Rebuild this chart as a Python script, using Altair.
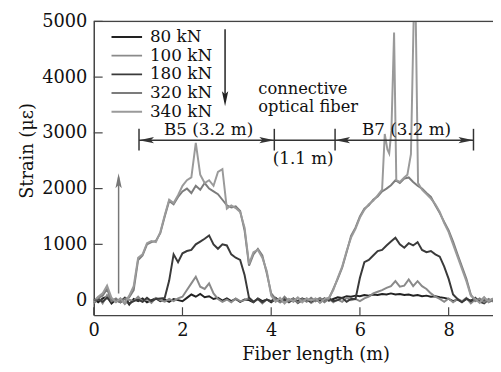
import altair as alt
import pandas as pd

FONT = "DejaVu Serif"

# ---------------- data ----------------
x_grid = [round(i * 0.1, 1) for i in range(91)]  # 0.0 .. 9.0 m

s80 = [20, -40, 30, 60, -60, 10, -30, 40, -80, 20,
       -20, 30, -40, 0, 30, -20, 10, -30, 20, 0,
       -20, 40, 100, 60, 110, 50, 70, 20, 40, -10,
       30, -20, 20, -30, 10, 0, -40, 30, -20, 10,
       -40, 20, -30, 10, -20, 30, -50, 0, 20, -30,
       10, -20, 30, -10, 20, 50, 40, 70, 60, 80,
       70, 90, 80, 100, 90, 110, 100, 120, 100, 110,
       90, 100, 80, 90, 70, 80, 60, 70, 50, 40,
       20, -20, 10, -30, 20, -10, 30, -40, 10, -20, 20]

s100 = [-30, 50, -60, 90, 20, -40, 30, -70, 10, -20,
        60, -30, 20, -50, 40, 0, -30, 20, -20, 30,
        60, 180, 300, 420, 240, 200, 300, 120, 20, -30,
        10, -40, 30, -20, 0, 40, -30, 20, -60, 10,
        -20, 30, -10, -40, 20, -30, 40, -10, 30, -50,
        0, 40, -20, 30, -40, 10, -30, 40, 0, 20,
        -20, 30, 60, 120, 150, 180, 220, 250, 340, 240,
        260, 370, 250, 340, 250, 200, 120, 60, 20, -30,
        30, -40, 20, -20, 40, -60, 10, -30, 50, -40, 0]

s180 = [-50, 20, -30, 40, -20, 0, -40, 30, -60, -20,
        10, -30, 40, -20, 20, 30, 40, 350, 820, 680,
        840, 880, 900, 1000, 1050, 1100, 1160, 1000, 920, 1000,
        980, 820, 760, 720, 450, 40, -30, 20, -40, 10,
        -20, 40, -30, 20, -40, 10, -20, 30, -10, -30,
        20, -40, 10, 30, -20, 0, 40, -30, 20, 20,
        400, 680, 720, 800, 880, 900, 980, 1050, 1120, 1000,
        940, 1020, 980, 1040, 900, 860, 880, 820, 780, 600,
        380, 100, 20, -40, 30, -20, 40, -30, -60, 10, -20]

s320 = [-60, 40, 80, 200, -20, 30, -40, 20, 50, 180,
        720, 800, 1000, 1040, 1060, 1200, 1500, 1780, 1720, 1850,
        1950, 2000, 1920, 2050, 1980, 2100, 2000, 1950, 1900, 1800,
        1700, 1660, 1680, 1600, 1250, 620, 820, 920, 800, 480,
        120, 20, -40, 60, -20, 30, -50, 20, -30, 40,
        -20, 30, -40, 20, 200, 380, 580, 860, 1150, 1300,
        1500, 1640, 1700, 1800, 1860, 1950, 2000, 2060, 2150, 2100,
        2180, 2200, 2120, 2050, 2000, 1920, 1850, 1700, 1560, 1400,
        1250, 1050, 820, 600, 380, 100, -20, 30, -40, 20, -30]

x340 = [0.0, 0.1, 0.2, 0.3, 0.4, 0.5, 0.6, 0.7, 0.8, 0.9,
        1.0, 1.1, 1.2, 1.3, 1.4, 1.5, 1.6, 1.7, 1.8, 1.9,
        2.0, 2.1, 2.2, 2.3, 2.4, 2.5, 2.6, 2.7, 2.8, 2.9,
        3.0, 3.1, 3.2, 3.3, 3.4, 3.5, 3.6, 3.7, 3.8, 3.9,
        4.0, 4.1, 4.2, 4.3, 4.4, 4.5, 4.6, 4.7, 4.8, 4.9,
        5.0, 5.1, 5.2, 5.3, 5.4, 5.5, 5.6, 5.7, 5.8, 5.9,
        6.0, 6.1, 6.2, 6.3, 6.4, 6.5, 6.56, 6.62, 6.66, 6.71,
        6.77, 6.82, 6.9, 7.0, 7.07, 7.15, 7.21, 7.26, 7.31,
        7.4, 7.5, 7.6, 7.7, 7.8, 7.9, 8.0, 8.1, 8.2, 8.3, 8.4,
        8.5, 8.6, 8.7, 8.8, 8.9, 9.0]
s340 = [-20, 60, 120, 260, 40, -30, 20, -50, 80, 250,
        760, 820, 1020, 1060, 1040, 1220, 1520, 1800, 1740, 1880,
        2050, 2150, 2200, 2820, 2250, 2100, 2150, 2050, 2300, 2350,
        1640, 1700, 1650, 1580, 1300, 650, 860, 900, 760, 520,
        80, -30, 40, -60, 20, -20, 50, -40, 30, -10,
        30, -50, 20, 40, 180, 400, 600, 880, 1120, 1280,
        1480, 1620, 1720, 1780, 1880, 1980, 2980, 2700, 2630, 3040,
        4800, 2150, 2120, 2200, 2250, 2620, 5000, 5000, 2100,
        1980, 1900, 1820, 1720, 1580, 1380, 1220, 1000, 780, 560, 340,
        80, 20, -50, 40, -20, 30]

series_names = ["80 kN", "100 kN", "180 kN", "320 kN", "340 kN"]
series_colors = ["#222222", "#8a8a8a", "#3a3a3a", "#7c7c7c", "#9a9a9a"]

x_ticks = [0, 2, 4, 6, 8]
y_ticks = [0, 1000, 2000, 3000, 4000, 5000]

# annotations (data units)
seg_x = [1.02, 4.07, 5.44, 8.56]         # B5 / B7 boundaries
seg_y = 2868
ann_texts = ["B5 (3.2 m)", "(1.1 m)", "B7 (3.2 m)", "connective", "optical fiber"]
ann_tx = [2.59, 4.72, 7.05, 3.71, 3.71]
ann_ty = [2960, 2450, 2970, 3700, 3375]
ann_size = [17, 17, 17, 16.5, 16.5]
ann_align = ["center", "center", "center", "left", "left"]

# ---------------- tables ----------------
rows = []
for name, xs_, ys_ in [("80 kN", x_grid, s80), ("100 kN", x_grid, s100),
                       ("180 kN", x_grid, s180), ("320 kN", x_grid, s320),
                       ("340 kN", x340, s340)]:
    for xv, yv in zip(xs_, ys_):
        rows.append({"x": xv, "y": yv, "s": name})
df = pd.DataFrame(rows)

W, H = 405, 298
xsc = alt.Scale(domain=[0, 9], nice=False, zero=False)
ysc = alt.Scale(domain=[-270, 5000], nice=False, zero=False)

X_AX = alt.Axis(
    values=x_ticks, format="d", ticks=False, grid=False, labelFlush=False,
    domainColor="#444", domainWidth=1.5, labelFont=FONT, labelFontSize=18,
    labelColor="#111", labelPadding=7, title="Fiber length (m)", titleFont=FONT,
    titleFontSize=18, titleFontWeight="normal", titleColor="#111",
    titleX=225, titleY=45, titleBaseline="alphabetic")
Y_AX = alt.Axis(
    values=y_ticks, format="d", ticks=False, grid=False, labelFlush=False,
    domainColor="#444", domainWidth=1.5, labelFont=FONT, labelFontSize=18,
    labelColor="#111", labelPadding=7, title="Strain (με)", titleFont=FONT,
    titleFontSize=18, titleFontWeight="normal", titleColor="#111",
    titleX=-62, titleY=131, titleBaseline="alphabetic")


def X(field="x"):
    return alt.X(f"{field}:Q", scale=xsc, axis=X_AX)


def Y(field="y"):
    return alt.Y(f"{field}:Q", scale=ysc, axis=Y_AX)


lines = alt.Chart(df).mark_line(strokeWidth=2, clip=True).encode(
    x=X(), y=Y(),
    color=alt.Color("s:N", scale=alt.Scale(domain=series_names, range=series_colors),
                    legend=alt.Legend(title=None, orient="none", legendX=17, legendY=7,
                                      symbolType="stroke", symbolSize=961,
                                      symbolStrokeWidth=2, clipHeight=17.5,
                                      labelFont=FONT, labelFontSize=17, labelColor="#111",
                                      labelOffset=7, rowPadding=0, padding=0)),
)

top_border = alt.Chart(pd.DataFrame({"v": [0]})).mark_rule(color="#444", strokeWidth=1.5).encode(
    x=alt.value(0), x2=alt.value(W), y=alt.value(0))

ytick_layer = alt.Chart(pd.DataFrame({"y": y_ticks})).mark_rule(color="#444", strokeWidth=1.2).encode(
    y=Y(), x=alt.value(0), x2=alt.value(9))
xtick_layer = alt.Chart(pd.DataFrame({"x": x_ticks})).mark_rule(color="#444", strokeWidth=1.2).encode(
    x=X(), y=alt.value(H), y2=alt.value(H - 8))

# annotation line segments
seg_rows = [
    {"x": seg_x[0], "x2": seg_x[3], "y": seg_y, "y2": seg_y, "c": "#333333"},
]
for sx in seg_x:
    seg_rows.append({"x": sx, "x2": sx, "y": 2683, "y2": 3072, "c": "#333333"})
seg_rows.append({"x": 2.96, "x2": 2.96, "y": 4858, "y2": 3560, "c": "#222222"})
seg_rows.append({"x": 0.56, "x2": 0.56, "y": 118, "y2": 2200, "c": "#777777"})
segs = alt.Chart(pd.DataFrame(seg_rows)).mark_rule(strokeWidth=1.5).encode(
    x=X(), x2="x2:Q", y=Y(), y2="y2:Q",
    stroke=alt.Stroke("c:N", scale=None, legend=None))

head_path = "M0,0L-0.4,1.9L0,1.5L0.4,1.9Z"
heads = pd.DataFrame([
    {"x": seg_x[0], "y": seg_y, "a": 270, "c": "#333333"},
    {"x": seg_x[1], "y": seg_y, "a": 90, "c": "#333333"},
    {"x": seg_x[2], "y": seg_y, "a": 270, "c": "#333333"},
    {"x": seg_x[3], "y": seg_y, "a": 90, "c": "#333333"},
    {"x": 2.96, "y": 3479, "a": 180, "c": "#222222"},
    {"x": 0.56, "y": 2276, "a": 0, "c": "#777777"},
])
head_layer = alt.Chart(heads).mark_point(shape=head_path, filled=True, size=256,
                                         opacity=1, strokeWidth=0).encode(
    x=X(), y=Y(),
    angle=alt.Angle("a:Q", scale=None),
    fill=alt.Fill("c:N", scale=None, legend=None))

ann_df = pd.DataFrame({"x": ann_tx, "y": ann_ty, "t": ann_texts,
                       "fs": ann_size, "al": ann_align})
texts_c = alt.Chart(ann_df[ann_df.al == "center"]).mark_text(
    font=FONT, color="#111", align="center", baseline="alphabetic").encode(
    x=X(), y=Y(), text="t:N", size=alt.Size("fs:Q", scale=None, legend=None))
texts_l = alt.Chart(ann_df[ann_df.al == "left"]).mark_text(
    font=FONT, color="#111", align="left", baseline="alphabetic").encode(
    x=X(), y=Y(), text="t:N", size=alt.Size("fs:Q", scale=None, legend=None))

chart = alt.layer(lines, top_border, ytick_layer, xtick_layer, segs, head_layer,
                  texts_c, texts_l).properties(
    width=W, height=H,
    autosize=alt.AutoSizeParams(type="none"),
    padding={"left": 87, "top": 11, "right": 0, "bottom": 47},
).configure_view(stroke=None).configure(background="white")

chart.save("out.html", embed_options={"renderer": "svg", "actions": False})
